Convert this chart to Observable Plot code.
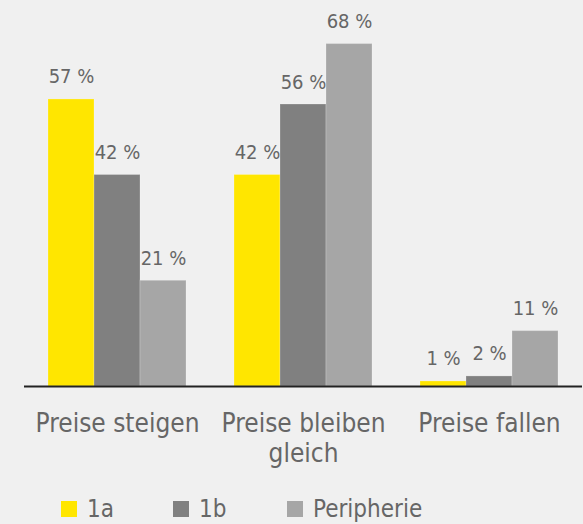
<!DOCTYPE html>
<html>
<head>
<meta charset="utf-8">
<script src="https://cdn.jsdelivr.net/npm/d3@7"></script>
<script src="https://cdn.jsdelivr.net/npm/@observablehq/plot@0.6"></script>
<style>
  html, body { margin: 0; padding: 0; background: #f0f0f0; }
  body { width: 583px; height: 524px; overflow: hidden;
    font-family: "DejaVu Sans Condensed", "DejaVu Sans", sans-serif; font-stretch: condensed; color: #666; }
  #chart svg { display: block; }
  #legend { display: flex; align-items: center; height: 24px; line-height: 24px; margin-top: 17px; padding-left: 61px; font-size: 24px; color: #666; }
  .item { display: flex; align-items: center; height: 24px; }
  .sw { width: 16px; height: 16px; margin-right: 10px; }
</style>
</head>
<body>
<div id="chart"></div>
<div id="legend"></div>
<script>
const categories = ["Preise steigen", "Preise bleiben gleich", "Preise fallen"];
const tickLabels = ["Preise steigen", "Preise bleiben\ngleich", "Preise fallen"];
const series = ["1a", "1b", "Peripherie"];
const values1a = [57, 42, 1];
const values1b = [42, 56, 2];
const valuesPeripherie = [21, 68, 11];
const colors = ["#ffe600", "#808080", "#a6a6a6"];

const seriesValues = [values1a, values1b, valuesPeripherie];
const rows = [];
categories.forEach((c, i) => {
  series.forEach((s, j) => rows.push({category: c, series: s, value: seriesValues[j][i]}));
});

const fontFam = '"DejaVu Sans Condensed", "DejaVu Sans", sans-serif';

const chart = Plot.plot({
  width: 583,
  height: 480,
  marginLeft: 23,
  marginRight: 0,
  marginTop: 33.5,
  marginBottom: 94,
  style: {background: "#f0f0f0", fontFamily: fontFam, color: "#666", overflow: "visible"},
  fx: {domain: categories, padding: 0, label: null},
  x: {domain: series, paddingInner: 0, paddingOuter: 0.5, axis: null},
  y: {domain: [0, 70], axis: null},
  color: {domain: series, range: colors},
  marks: [
    Plot.barY(rows, {fx: "category", x: "series", y: "value", fill: "series", stroke: "white", strokeOpacity: 0.22, strokeWidth: 1}),
    Plot.text(rows, {fx: "category", x: "series", y: "value", text: d => `${d.value} %`, lineAnchor: "bottom", dy: -16, fontSize: 20, fill: "#666"}),
    Plot.ruleY([0], {stroke: "#222", strokeWidth: 2}),
    Plot.axisFx({anchor: "bottom", tickSize: 0, tickPadding: 24, fontSize: 26, lineHeight: 30 / 26, fill: "#666",
      tickFormat: d => tickLabels[categories.indexOf(d)], label: null})
  ]
});
document.getElementById("chart").append(chart);

const legend = document.getElementById("legend");
const itemWidths = [112, 114, null];
series.forEach((s, j) => {
  const item = document.createElement("div");
  item.className = "item";
  if (itemWidths[j]) item.style.width = itemWidths[j] + "px";
  const sw = document.createElement("span");
  sw.className = "sw";
  sw.style.background = colors[j];
  const t = document.createElement("span");
  t.textContent = s;
  item.append(sw, t);
  legend.append(item);
});
</script>
</body>
</html>
